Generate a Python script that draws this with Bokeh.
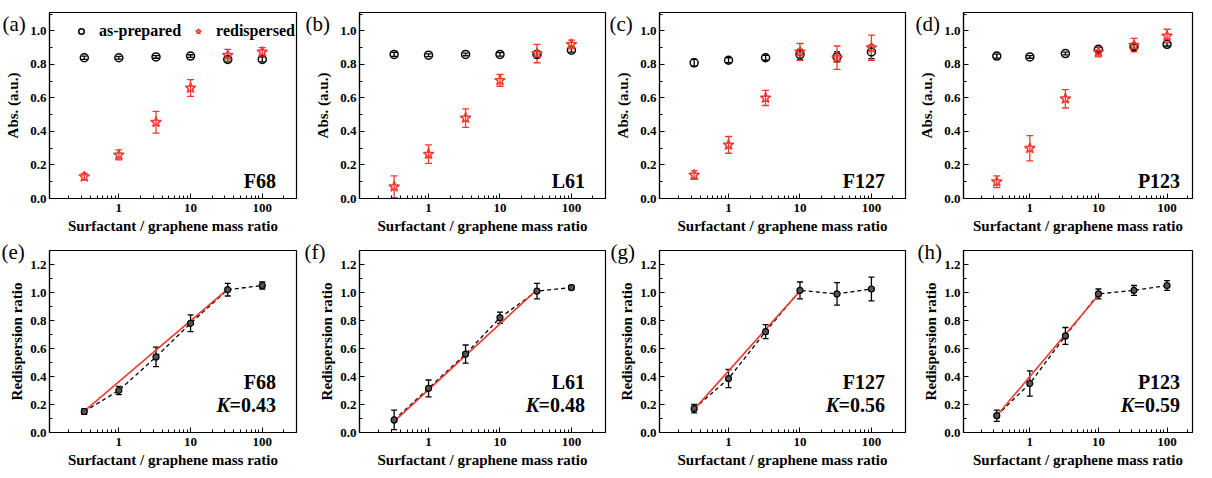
from bokeh.plotting import figure
from bokeh.models import (ColumnDataSource, Whisker, TeeHead, FixedTicker,
                          NumeralTickFormatter, Range1d, Title, Legend, LegendItem)
from bokeh.layouts import row, column
from bokeh.embed import file_html
from bokeh.resources import INLINE

# ---------------- data ----------------
mass_ratio = [0.33, 1, 3.3, 10, 33, 100]
surfactants = ["F68", "L61", "F127", "P123"]
top_letters = ["(a)", "(b)", "(c)", "(d)"]
bottom_letters = ["(e)", "(f)", "(g)", "(h)"]
k_values = ["0.43", "0.48", "0.56", "0.59"]

asprep_F68 = [0.84, 0.84, 0.845, 0.85, 0.83, 0.83]
asprep_err_F68 = [0.01, 0.008, 0.008, 0.008, 0.015, 0.015]
redisp_F68 = [0.13, 0.26, 0.455, 0.66, 0.855, 0.875]
redisp_err_F68 = [0.02, 0.03, 0.065, 0.05, 0.035, 0.025]

asprep_L61 = [0.86, 0.855, 0.86, 0.86, 0.86, 0.885]
asprep_err_L61 = [0.012, 0.008, 0.008, 0.01, 0.02, 0.012]
redisp_L61 = [0.07, 0.265, 0.48, 0.705, 0.865, 0.92]
redisp_err_L61 = [0.065, 0.055, 0.055, 0.035, 0.055, 0.025]

asprep_F127 = [0.81, 0.825, 0.84, 0.86, 0.845, 0.875]
asprep_err_F127 = [0.02, 0.015, 0.015, 0.03, 0.03, 0.04]
redisp_F127 = [0.14, 0.32, 0.60, 0.875, 0.84, 0.90]
redisp_err_F127 = [0.025, 0.05, 0.045, 0.05, 0.07, 0.075]

asprep_P123 = [0.85, 0.845, 0.865, 0.89, 0.905, 0.92]
asprep_err_P123 = [0.012, 0.008, 0.008, 0.012, 0.015, 0.01]
redisp_P123 = [0.10, 0.30, 0.595, 0.875, 0.915, 0.97]
redisp_err_P123 = [0.035, 0.075, 0.055, 0.03, 0.04, 0.04]

ratio_F68 = [0.15, 0.30, 0.54, 0.78, 1.02, 1.05]
ratio_err_F68 = [0.02, 0.03, 0.07, 0.06, 0.045, 0.025]
fit_x_F68 = [0.33, 33]
fit_y_F68 = [0.152, 1.024]

ratio_L61 = [0.09, 0.315, 0.56, 0.82, 1.01, 1.035]
ratio_err_L61 = [0.07, 0.06, 0.065, 0.04, 0.055, 0.015]
fit_x_L61 = [0.33, 33]
fit_y_L61 = [0.08, 1.02]

ratio_F127 = [0.17, 0.385, 0.72, 1.015, 0.99, 1.025]
ratio_err_F127 = [0.03, 0.065, 0.05, 0.06, 0.08, 0.085]
fit_x_F127 = [0.33, 10]
fit_y_F127 = [0.165, 1.01]

ratio_P123 = [0.12, 0.35, 0.69, 0.99, 1.015, 1.05]
ratio_err_P123 = [0.04, 0.09, 0.06, 0.035, 0.035, 0.035]
fit_x_P123 = [0.33, 10]
fit_y_P123 = [0.12, 0.98]

x_major_ticks = [1, 10, 100]
top_y_ticks = [0.0, 0.2, 0.4, 0.6, 0.8, 1.0]
bottom_y_ticks = [0.0, 0.2, 0.4, 0.6, 0.8, 1.0, 1.2]

top_data = {
    "F68": (asprep_F68, asprep_err_F68, redisp_F68, redisp_err_F68),
    "L61": (asprep_L61, asprep_err_L61, redisp_L61, redisp_err_L61),
    "F127": (asprep_F127, asprep_err_F127, redisp_F127, redisp_err_F127),
    "P123": (asprep_P123, asprep_err_P123, redisp_P123, redisp_err_P123),
}
bottom_data = {
    "F68": (ratio_F68, ratio_err_F68, fit_x_F68, fit_y_F68),
    "L61": (ratio_L61, ratio_err_L61, fit_x_L61, fit_y_L61),
    "F127": (ratio_F127, ratio_err_F127, fit_x_F127, fit_y_F127),
    "P123": (ratio_P123, ratio_err_P123, fit_x_P123, fit_y_P123),
}

# ---------------- style / layout ----------------
FONT = "Liberation Serif"
RED = "#ee3a30"
X_START = 0.108
col_widths = [299, 309, 300, 287]
col_left = [49, 60, 51, 55]
col_xend = [300, 300, 300, 235]
top_letter_offset = [-47, -54, -50, -48]
bottom_letter_offset = [-48, -55, -49, -46]
x_minor = [m * 10 ** e for e in (-1, 0, 1, 2) for m in range(2, 10)]


def make_fig(ci, top, fh, bottom, y_end, y_ticks, ylabel, letter, l_off, l_standoff, ylab_standoff):
    height = top + fh + bottom
    p = figure(width=col_widths[ci], height=height,
               x_axis_type="log",
               x_range=Range1d(X_START, col_xend[ci]), y_range=Range1d(0, y_end),
               output_backend="svg", toolbar_location=None,
               min_border_left=col_left[ci], min_border_right=3,
               min_border_top=top, min_border_bottom=bottom)
    p.grid.visible = False
    p.outline_line_color = "black"
    p.outline_line_width = 1.2
    p.xaxis.ticker = FixedTicker(ticks=x_major_ticks, minor_ticks=x_minor)
    p.xaxis.formatter = NumeralTickFormatter(format="0")
    minor_y = [round(v + 0.1, 2) for v in y_ticks]
    p.yaxis.ticker = FixedTicker(ticks=y_ticks, minor_ticks=minor_y)
    p.yaxis.formatter = NumeralTickFormatter(format="0.0")
    for ax in (p.xaxis, p.yaxis):
        ax.axis_line_color = "black"
        ax.axis_line_width = 1.2
        ax.major_tick_in = 5
        ax.major_tick_out = 0
        ax.minor_tick_in = 3
        ax.minor_tick_out = 0
        ax.major_tick_line_color = "black"
        ax.minor_tick_line_color = "black"
        ax.major_label_text_font = FONT
        ax.major_label_text_font_style = "bold"
        ax.major_label_text_font_size = "13px"
        ax.major_label_text_color = "black"
        ax.axis_label_text_font = FONT
        ax.axis_label_text_font_style = "bold"
        ax.axis_label_text_font_size = "15px"
        ax.axis_label_text_color = "black"
    p.xaxis.major_label_standoff = 5
    p.xaxis.axis_label_standoff = 3
    p.yaxis.major_label_standoff = 3
    p.yaxis.axis_label_standoff = ylab_standoff
    p.xaxis.axis_label = "Surfactant / graphene mass ratio"
    p.yaxis.axis_label = ylabel
    p.add_layout(Title(text=letter, align="left", offset=l_off, standoff=l_standoff,
                       vertical_align="bottom", text_font=FONT, text_font_size="21px",
                       text_font_style="normal", text_color="black"), "above")
    return p


def whisker(p, x, y, err, color, size=6):
    src = ColumnDataSource(dict(x=x,
                                upper=[a + b for a, b in zip(y, err)],
                                lower=[a - b for a, b in zip(y, err)]))
    p.add_layout(Whisker(source=src, base="x", upper="upper", lower="lower",
                         line_color=color, line_width=1.3,
                         upper_head=TeeHead(size=size, line_color=color, line_width=1.3),
                         lower_head=TeeHead(size=size, line_color=color, line_width=1.3)))


top_figs = []
for ci, name in enumerate(surfactants):
    ap, ap_err, rd, rd_err = top_data[name]
    p = make_fig(ci, 12, 186, 38, 1.11, top_y_ticks, "Abs. (a.u.)", top_letters[ci],
                 top_letter_offset[ci], -46, 6)
    whisker(p, mass_ratio, ap, ap_err, "black")
    whisker(p, mass_ratio, rd, rd_err, RED, 7)
    r1 = p.scatter(mass_ratio, ap, marker="circle", size=8, fill_color=None,
                   line_color="black", line_width=1.5)
    r2 = p.scatter(mass_ratio, rd, marker="star", size=11, fill_color=None,
                   line_color=RED, line_width=1.5)
    p.text(x=[155], y=[0.105], text=[name], text_font=dict(value=FONT),
           text_font_style="bold", text_font_size="20px", text_align="right",
           text_baseline="alphabetic", text_color="black")
    if ci == 0:
        leg = Legend(items=[LegendItem(label="as-prepared", renderers=[r1]),
                            LegendItem(label="redispersed", renderers=[r2])],
                     location=(23, 156), orientation="horizontal",
                     background_fill_alpha=0, border_line_alpha=0,
                     label_text_font=FONT, label_text_font_style="bold",
                     label_text_color="black",
                     label_text_font_size="16px", glyph_width=14, glyph_height=14,
                     label_standoff=11, spacing=10, padding=2, margin=0)
        leg.label_height = 14
        p.add_layout(leg)
    top_figs.append(p)

bottom_figs = []
for ci, name in enumerate(surfactants):
    rr, rr_err, fx, fy = bottom_data[name]
    p = make_fig(ci, 14, 182, 38, 1.3, bottom_y_ticks, "Redispersion ratio", bottom_letters[ci],
                 bottom_letter_offset[ci], -26, 2)
    p.line(mass_ratio, rr, line_color="black", line_dash="4 3", line_width=1.3)
    p.line(fx, fy, line_color=RED, line_width=1.6)
    whisker(p, mass_ratio, rr, rr_err, "black")
    p.scatter(mass_ratio, rr, marker="circle", size=6, fill_color="#555555",
              line_color="black", line_width=1.2)
    p.text(x=[155], y=[0.36], text=[name], text_font=dict(value=FONT),
           text_font_style="bold", text_font_size="20px", text_align="right",
           text_baseline="alphabetic", text_color="black")
    p.text(x=[155], y=[0.2], text=["=" + k_values[ci]], text_font=dict(value=FONT),
           text_font_style="bold", text_font_size="20px", text_align="right",
           text_baseline="alphabetic", text_color="black")
    p.text(x=[155], y=[0.2], text=["K"], x_offset=-46, text_font=dict(value=FONT),
           text_font_style="bold italic", text_font_size="20px", text_align="right",
           text_baseline="alphabetic", text_color="black")
    bottom_figs.append(p)

layout = column(row(*top_figs), row(*bottom_figs))
open("out.html", "w").write(file_html(layout, INLINE))
